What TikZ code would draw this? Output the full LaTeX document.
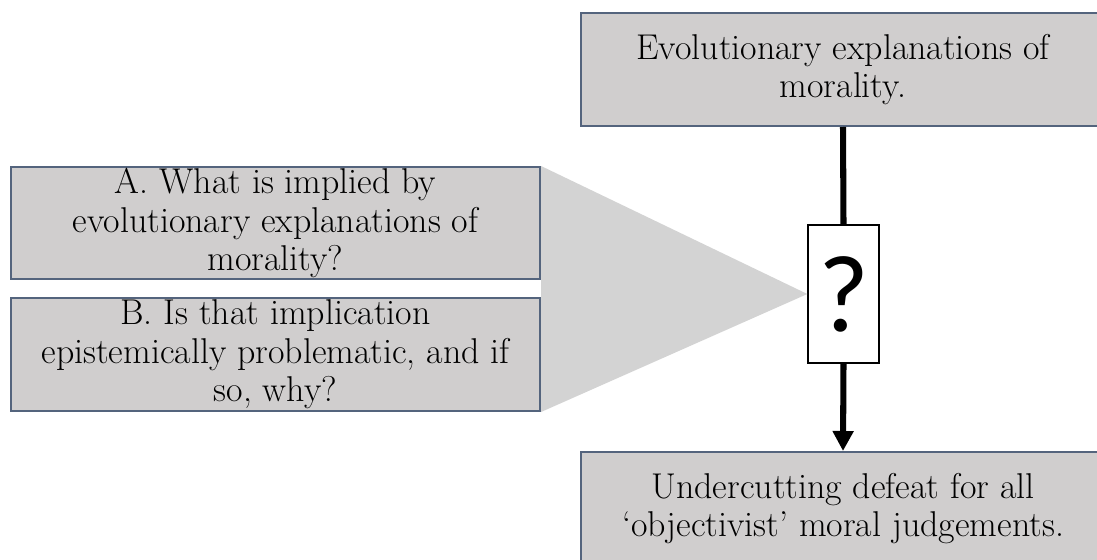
\documentclass[tikz,border=0pt]{standalone}
\usepackage{fontspec}
\usepackage{tikz}
\usetikzlibrary{arrows.meta}
\newfontfamily\qmarkfont{Carlito}
\definecolor{boxgray}{HTML}{D0CECE}
\definecolor{wedgegray}{HTML}{D3D3D3}
\definecolor{boxline}{RGB}{84,100,125}

\begin{document}
\begin{tikzpicture}[x=0.025cm, y=-0.025cm,
        textbox/.style={draw=boxline, line width=1.4pt, fill=boxgray, align=center,
            inner sep=0pt, minimum height=2.825cm,
            font=\fontsize{25.5}{27.3}\selectfont,
            execute at begin node={\rule{0pt}{27pt}}},
        link/.style={line width=4.3pt}]
                \clip (0,0) rectangle (1097,559);
                \node[textbox, minimum width=13.1cm] (expl) at (843,69.5) {Evolutionary explanations of\\morality.};
                \node[textbox, minimum width=13.225cm, minimum height=2.8cm] (qa) at (275.5,223) {A. What is implied by\\evolutionary explanations of\\morality?};
                \node[textbox, minimum width=13.225cm] (qb) at (275.5,354.5) {B. Is that implication\\epistemically problematic, and if\\so, why?};
                \node[draw, line width=0.9pt, fill=white, minimum width=1.775cm, minimum height=3.45cm, inner sep=0pt,
                    font=\qmarkfont\fontsize{78}{78}\selectfont] (qmark) at (843.5,294) {?};
                \node[textbox, minimum width=13.1cm] (defeat) at (843,508.5) {Undercutting defeat for all\\`objectivist' moral judgements.};
                \fill[wedgegray] (qa.north east) -- (qb.south east) -- (qmark.west) -- cycle;
                \draw[link] (expl.south) -- (qmark.north);
                \draw[link, -{Triangle[length=0.5cm, width=0.5cm]}] (qmark.south) -- (defeat.north);
            \end{tikzpicture}
\end{document}
